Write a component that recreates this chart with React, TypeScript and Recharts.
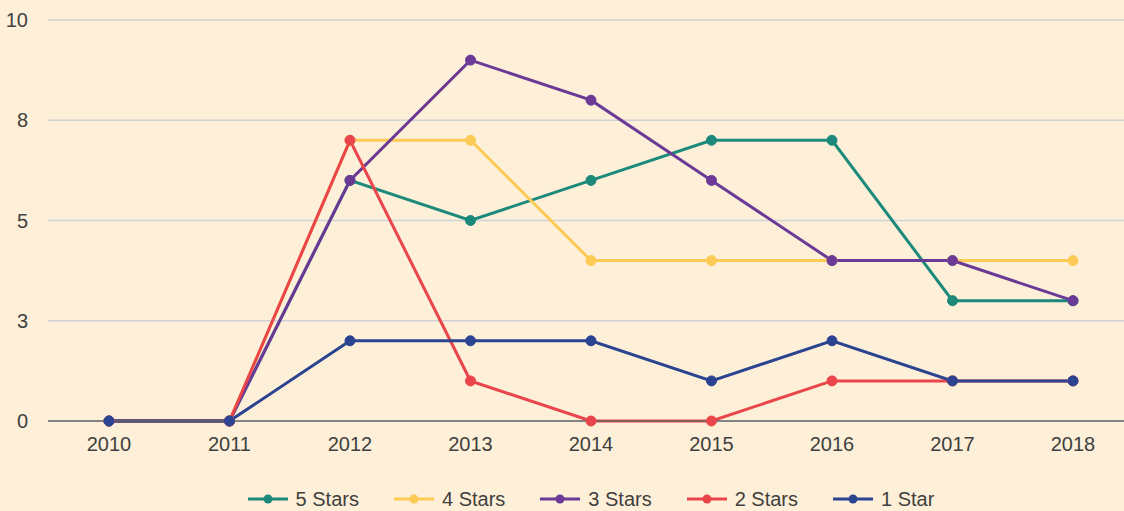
import React from 'react';
import {
  LineChart,
  Line,
  XAxis,
  YAxis,
  CartesianGrid,
  Legend,
} from 'recharts';

// review counts per year
const years = ['2010', '2011', '2012', '2013', '2014', '2015', '2016', '2017', '2018'];
const fiveStars = [0, 0, 6, 5, 6, 7, 7, 3, 3];
const fourStars = [0, 0, 7, 7, 4, 4, 4, 4, 4];
const threeStars = [0, 0, 6, 9, 8, 6, 4, 4, 3];
const twoStars = [0, 0, 7, 1, 0, 0, 1, 1, 1];
const oneStar = [0, 0, 2, 2, 2, 1, 2, 1, 1];
const yTicks = [0, 2.5, 5, 7.5, 10];

const series = [
  { key: 'five', name: '5 Stars', values: fiveStars, color: '#1b8a7b' },
  { key: 'four', name: '4 Stars', values: fourStars, color: '#fdcb55' },
  { key: 'three', name: '3 Stars', values: threeStars, color: '#6b3a97' },
  { key: 'two', name: '2 Stars', values: twoStars, color: '#e9454a' },
  { key: 'one', name: '1 Star', values: oneStar, color: '#2b4492' },
];

const data = years.map((year, i) => {
  const row: Record<string, string | number> = { year };
  series.forEach((s) => {
    row[s.key] = s.values[i];
  });
  return row;
});

const font = '"Liberation Sans", Arial, sans-serif';
const textColor = '#404040';

function StarLegend() {
  return (
    <div
      style={{
        height: 50,
        display: 'flex',
        justifyContent: 'center',
        alignItems: 'flex-end',
        gap: 35,
        paddingLeft: 58,
        boxSizing: 'border-box',
        fontFamily: font,
        fontSize: 20,
        color: textColor,
        lineHeight: '24px',
      }}
    >
      {series.map((s) => (
        <div key={s.key} style={{ display: 'flex', alignItems: 'center', gap: 8 }}>
          <svg width={40} height={12}>
            <line x1={0} y1={6} x2={40} y2={6} stroke={s.color} strokeWidth={3} />
            <circle cx={20} cy={6} r={4.5} fill={s.color} />
          </svg>
          <span>{s.name}</span>
        </div>
      ))}
    </div>
  );
}

export default function App() {
  return (
    <div style={{ position: 'absolute', left: 0, top: 0, width: 1124, height: 511, background: '#fef0d8' }}>
      <LineChart width={1124} height={511} data={data} margin={{ top: 20, right: 0, bottom: 0, left: 0 }}>
        <CartesianGrid vertical={false} stroke="#cfd2d6" strokeWidth={1.5} />
        <XAxis
          dataKey="year"
          padding={{ left: 61, right: 51 }}
          height={40}
          tickSize={0}
          tickMargin={16}
          stroke="#666"
          strokeWidth={1.5}
          tick={{ fill: textColor, fontSize: 20, fontFamily: font }}
        />
        <YAxis
          domain={[0, 10]}
          ticks={yTicks}
          width={48}
          axisLine={false}
          tickLine={false}
          tickSize={0}
          tickMargin={20}
          tickFormatter={(v: number) => String(Math.round(v))}
          tick={{ fill: textColor, fontSize: 20, fontFamily: font }}
        />
        <Legend verticalAlign="bottom" height={50} content={() => <StarLegend />} />
        {series.map((s) => (
          <Line
            key={s.key}
            dataKey={s.key}
            name={s.name}
            type="linear"
            stroke={s.color}
            strokeWidth={3}
            dot={{ r: 5, fill: s.color, stroke: s.color, strokeWidth: 1 }}
            activeDot={false}
            isAnimationActive={false}
          />
        ))}
      </LineChart>
    </div>
  );
}
